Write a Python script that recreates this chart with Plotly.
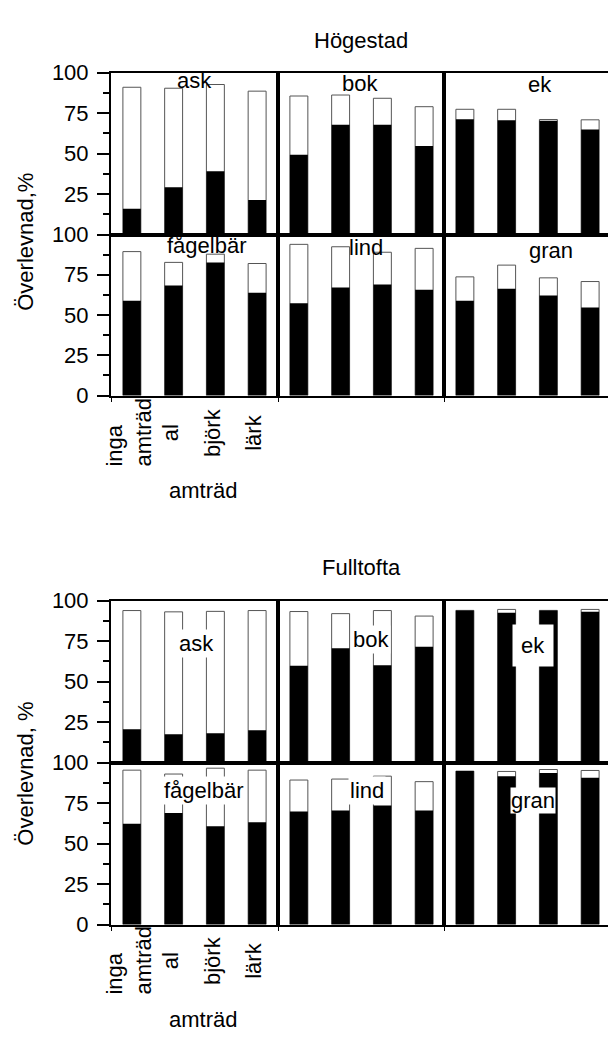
import plotly.graph_objects as go

# ---------------- data ----------------
categories = ["inga amträd", "al", "björk", "lärk"]
tick_labels = ["inga<br>amträd", "al", "björk", "lärk"]
species = ["ask", "bok", "ek", "fågelbär", "lind", "gran"]
sites = ["Högestad", "Fulltofta"]
y_titles = ["Överlevnad,%", "Överlevnad, %"]
x_title = "amträd"

# Högestad: total survival (white bar top) and black part
hog_ask_total = [90.9, 90.3, 92.6, 88.5]
hog_ask_black = [15.9, 29.2, 39.0, 21.3]
hog_bok_total = [85.5, 86.1, 84.1, 78.9]
hog_bok_black = [49.3, 67.8, 67.8, 54.7]
hog_ek_total = [77.3, 77.3, 71.0, 70.8]
hog_ek_black = [71.2, 70.6, 70.2, 64.8]
hog_fag_total = [89.4, 82.7, 87.8, 82.0]
hog_fag_black = [58.8, 68.4, 82.7, 63.9]
hog_lind_total = [93.9, 92.4, 89.0, 91.4]
hog_lind_black = [57.3, 67.1, 69.0, 65.7]
hog_gran_total = [73.7, 81.0, 73.1, 70.8]
hog_gran_black = [58.8, 66.3, 62.2, 54.7]

# Fulltofta
ful_ask_total = [93.8, 93.0, 93.3, 93.8]
ful_ask_black = [20.6, 17.5, 18.0, 20.0]
ful_bok_total = [93.2, 91.9, 93.8, 90.4]
ful_bok_black = [59.7, 70.5, 60.1, 71.5]
ful_ek_total = [93.9, 94.5, 93.9, 94.5]
ful_ek_black = [93.9, 92.5, 93.9, 93.1]
ful_fag_total = [95.3, 92.9, 96.5, 95.3]
ful_fag_black = [62.2, 68.8, 60.6, 63.1]
ful_lind_total = [89.2, 89.8, 91.6, 88.2]
ful_lind_black = [69.8, 70.4, 73.5, 70.4]
ful_gran_total = [94.7, 94.5, 95.7, 95.1]
ful_gran_black = [94.7, 91.6, 93.5, 90.6]

site_totals = [
    [hog_ask_total, hog_bok_total, hog_ek_total, hog_fag_total, hog_lind_total, hog_gran_total],
    [ful_ask_total, ful_bok_total, ful_ek_total, ful_fag_total, ful_lind_total, ful_gran_total],
]
site_blacks = [
    [hog_ask_black, hog_bok_black, hog_ek_black, hog_fag_black, hog_lind_black, hog_gran_black],
    [ful_ask_black, ful_bok_black, ful_ek_black, ful_fag_black, ful_lind_black, ful_gran_black],
]

# ---------------- layout geometry (pixels) ----------------
W, H = 608, 1041
FONT = "Liberation Sans, Arial, sans-serif"
FS = 22
UNIT_PX = 41.75  # pixels per category slot

def fx(p):
    return p / W

def fy(p):
    return 1 - p / H

col_px = [(111, 278), (278, 444), (444, 608)]
chart_rows_px = [[(62, 228), (228, 393)], [(603, 769), (769, 935)]]
title_y_px = [29, 569]
ytitle_y_px = [235, 780]
xlabels_y_px = [431, 972]
xtitle_y_px = [490, 1032]

# panel label positions (x in category units, y in data units) and bg
label_pos = [
    [(1.51, 94.9), (1.46, 93.5), (1.80, 92.5), (1.80, 93.0), (1.61, 92.0), (2.06, 90.0)],
    [(1.54, 73.2), (1.73, 76.2), (1.63, 72.0), (1.73, 82.7), (1.63, 82.5), (1.63, 76.6)],
]
label_bg = [False, True]
label_pad = [[1, 1, 1, 1, 1, 1], [1, 1, 8, 1, 1, 0]]

fig = go.Figure()
layout = dict(
    width=W, height=H,
    margin=dict(l=0, r=0, t=0, b=0),
    paper_bgcolor="white", plot_bgcolor="white",
    showlegend=False, barmode="overlay",
    font=dict(family=FONT, size=FS, color="black"),
)
annotations = []
xs = list(range(len(categories)))

for c, site in enumerate(sites):
    for r in range(2):
        y0px, y1px = chart_rows_px[c][r]
        for k in range(3):
            s = r * 3 + k
            n = c * 6 + s + 1
            xa = "x" if n == 1 else f"x{n}"
            ya = "y" if n == 1 else f"y{n}"
            x0px, x1px = col_px[k]
            fig.add_trace(go.Bar(
                x=xs, y=site_totals[c][s], xaxis=xa, yaxis=ya, width=0.43,
                marker=dict(color="white", line=dict(color="#555555", width=1)),
                hoverinfo="skip"))
            fig.add_trace(go.Bar(
                x=xs, y=site_blacks[c][s], xaxis=xa, yaxis=ya, width=0.43,
                marker=dict(color="black", line=dict(color="black", width=0)),
                hoverinfo="skip"))
            xkey = "xaxis" if n == 1 else f"xaxis{n}"
            ykey = "yaxis" if n == 1 else f"yaxis{n}"
            xr = [-0.5, -0.5 + (x1px - x0px) / UNIT_PX]
            xaxis = dict(
                domain=[fx(x0px), fx(x1px)], range=xr, anchor=ya,
                showline=True, mirror=True, linecolor="black", linewidth=2,
                showgrid=False, zeroline=False, showticklabels=False,
                fixedrange=True,
            )
            if r == 1:
                xaxis.update(tickmode="array", tickvals=[-0.5], ticks="outside",
                             ticklen=4, tickwidth=1, tickcolor="black")
            else:
                xaxis.update(ticks="")
            layout[xkey] = xaxis
            yaxis = dict(
                domain=[fy(y1px), fy(y0px)], range=[0, 100], anchor=xa,
                showline=True, mirror=(k < 2), linecolor="black", linewidth=2,
                showgrid=False, zeroline=False, fixedrange=True,
            )
            if k == 0:
                tv = [25, 50, 75, 100] if r == 0 else [0, 25, 50, 75, 100]
                yaxis.update(
                    tickmode="array", tickvals=tv, ticktext=[str(v) for v in tv],
                    ticks="outside", ticklen=12, tickwidth=2, tickcolor="black",
                    tickfont=dict(family=FONT, size=FS, color="black"),
                    ticklabelstandoff=4,
                    minor=dict(tickmode="array", tickvals=[12.5, 37.5, 62.5, 87.5],
                               ticks="outside", ticklen=6, tickwidth=2, tickcolor="black"),
                )
            else:
                yaxis.update(ticks="", showticklabels=False)
            layout[ykey] = yaxis

            lx, ly = label_pos[c][s]
            ann = dict(x=lx, y=ly, xref=xa, yref=ya, text=species[s], showarrow=False,
                       xanchor="center", yanchor="middle",
                       font=dict(family=FONT, size=FS, color="black"))
            if label_bg[c]:
                ann.update(bgcolor="white", borderpad=label_pad[c][s])
            annotations.append(ann)

            # category labels under first column of lower row
            if r == 1 and k == 0:
                for i, t in enumerate(tick_labels):
                    annotations.append(dict(
                        x=xs[i], y=fy(xlabels_y_px[c]), xref=xa, yref="paper",
                        text=t, textangle=-90, showarrow=False, align="left",
                        xanchor="center", yanchor="middle", xshift=-3,
                        font=dict(family=FONT, size=FS, color="black")))

    annotations.append(dict(x=fx(361), y=fy(title_y_px[c]), xref="paper", yref="paper",
                            text=site, showarrow=False, xanchor="center", yanchor="middle",
                            font=dict(family=FONT, size=FS, color="black")))
    annotations.append(dict(x=fx(25.4), y=fy(ytitle_y_px[c]), xref="paper", yref="paper",
                            text=y_titles[c], textangle=-90, showarrow=False,
                            xanchor="center", yanchor="middle",
                            font=dict(family=FONT, size=FS, color="black")))
    annotations.append(dict(x=fx(203), y=fy(xtitle_y_px[c]), xref="paper", yref="paper",
                            text=x_title, showarrow=False, xanchor="center", yanchor="middle",
                            font=dict(family=FONT, size=FS, color="black")))

layout["annotations"] = annotations
fig.update_layout(**layout)
fig.write_html(
    "out.html",
    config={"displayModeBar": False, "staticPlot": True},
    post_script="document.body.style.margin='0';document.body.style.overflow='hidden';",
)
